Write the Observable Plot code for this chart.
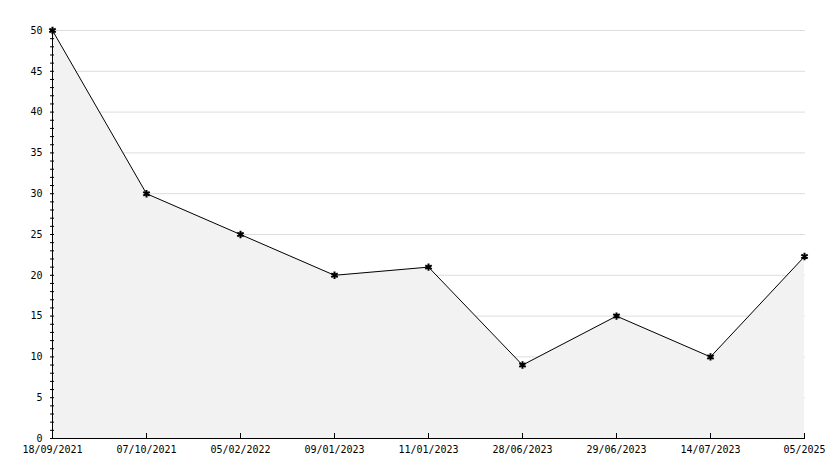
<!DOCTYPE html>
<html>
<head>
<meta charset="utf-8">
<script src="https://cdn.jsdelivr.net/npm/d3@7"></script>
<script src="https://cdn.jsdelivr.net/npm/@observablehq/plot@0.6"></script>
<style>
  html, body { margin: 0; padding: 0; background: #fff; }
</style>
</head>
<body>
<div id="chart"></div>
<script>
const dates = ["18/09/2021", "07/10/2021", "05/02/2022", "09/01/2023", "11/01/2023", "28/06/2023", "29/06/2023", "14/07/2023", "05/2025"];
const values = [50, 30, 25, 20, 21, 9, 15, 10, 22.3];
const yMajorTicks = [0, 5, 10, 15, 20, 25, 30, 35, 40, 45, 50];
const yMinorTicks = d3.range(0, 51, 1);

const data = dates.map((d, i) => ({date: d, value: values[i]}));

const chart = Plot.plot({
  width: 834,
  height: 468,
  marginLeft: 50,
  marginRight: 29,
  marginTop: 30,
  marginBottom: 30,
  style: {fontFamily: "DejaVu Sans Mono", fontSize: "10px", color: "#000", background: "#fff"},
  x: {type: "point", domain: dates, padding: 0},
  y: {domain: [0, 50]},
  marks: [
    Plot.ruleY(yMajorTicks.filter(d => d > 0), {stroke: "#dddddd", strokeWidth: 1}),
    Plot.areaY(data, {x: "date", y: "value", fill: "#f2f2f2"}),
    Plot.line(data, {x: "date", y: "value", stroke: "#000", strokeWidth: 1}),
    Plot.axisY({ticks: yMinorTicks, tickSize: -4, text: null, stroke: "#000", label: null}),
    Plot.axisY({ticks: yMajorTicks, tickSize: 0, tickPadding: 8, label: null, fill: "#000"}),
    Plot.axisX({tickSize: -5, text: null, stroke: "#000", label: null}),
    Plot.axisX({tickSize: 0, tickPadding: 7, label: null, fill: "#000"}),
    Plot.ruleX([dates[0]], {stroke: "#000"}),
    Plot.ruleY([0], {stroke: "#000"}),
    Plot.dot(data, {x: "date", y: "value", symbol: "asterisk", r: 3.5, stroke: "#000", strokeWidth: 2, fill: "#000"})
  ]
});
document.getElementById("chart").appendChild(chart);
</script>
</body>
</html>
